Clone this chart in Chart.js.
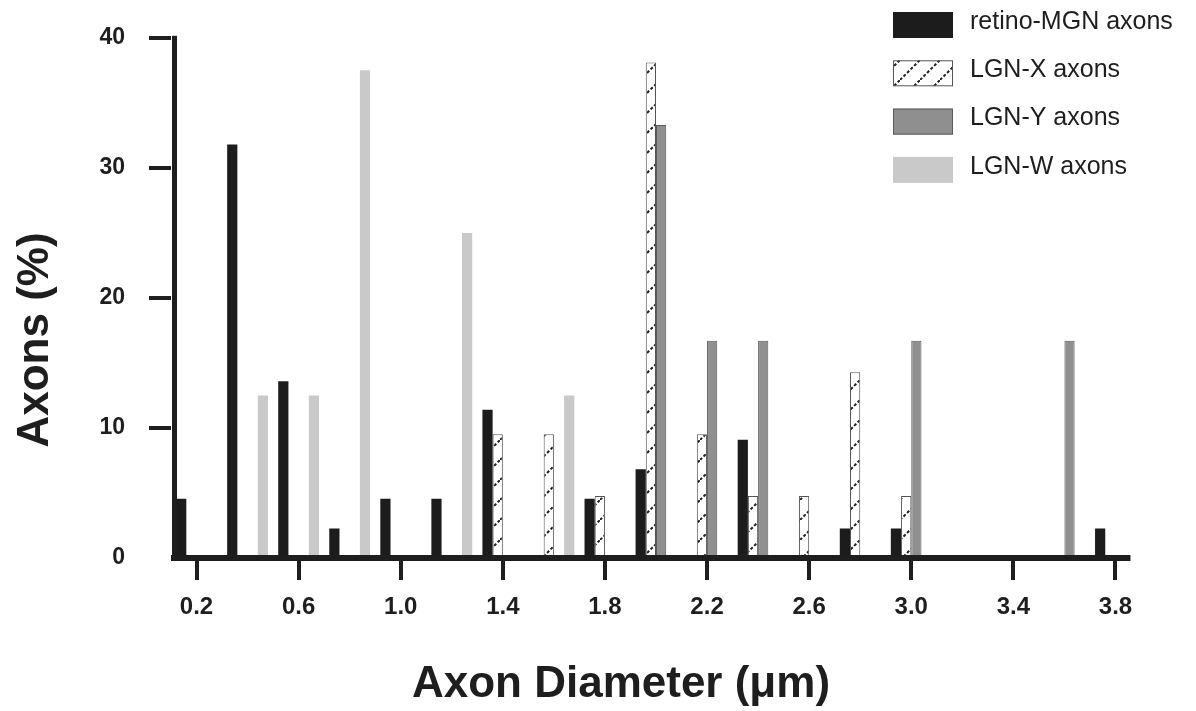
<!DOCTYPE html>
<html>
<head>
<meta charset="utf-8">
<script src="https://cdn.jsdelivr.net/npm/chart.js@4"></script>
<style>
  html, body { margin: 0; padding: 0; background: #ffffff; }
  #wrap { width: 1196px; height: 711px; }
</style>
</head>
<body>
<div id="wrap"><canvas id="c" width="1196" height="711"></canvas></div>
<script>
// ---- data ----
const categories = ['0.2','0.4','0.6','0.8','1.0','1.2','1.4','1.6','1.8','2.0',
                    '2.2','2.4','2.6','2.8','3.0','3.2','3.4','3.6','3.8'];
const xTickLabels = ['0.2','0.6','1.0','1.4','1.8','2.2','2.6','3.0','3.4','3.8'];
const yTickValues = [0, 10, 20, 30, 40];
const seriesNames = ['retino-MGN axons', 'LGN-X axons', 'LGN-Y axons', 'LGN-W axons'];
const retinoMGN = [4.55, 31.8, 13.6, 2.27, 4.55, 4.55, 11.4, 0, 4.55, 6.82, 0, 9.09, 0, 2.27, 2.27, 0, 0, 0, 2.27];
const lgnX      = [0, 0, 0, 0, 0, 0, 9.52, 9.52, 4.76, 38.1, 9.52, 4.76, 4.76, 14.29, 4.76, 0, 0, 0, 0];
const lgnY      = [0, 0, 0, 0, 0, 0, 0, 0, 0, 33.3, 16.7, 16.7, 0, 0, 16.7, 0, 0, 16.7, 0];
const lgnW      = [0, 12.5, 12.5, 37.5, 0, 25, 0, 12.5, 0, 0, 0, 0, 0, 0, 0, 0, 0, 0, 0];
const xTitle = 'Axon Diameter (\u03bcm)';
const yTitle = 'Axons (%)';

// ---- styles ----
const INK = '#1e1e1e';
const FONT = '"Liberation Sans", Arial, Helvetica, sans-serif';
Chart.defaults.font.family = FONT;
Chart.defaults.color = INK;

function hatchPattern() {
  const s = 20;
  const c = document.createElement('canvas');
  c.width = s; c.height = s;
  const g = c.getContext('2d');
  g.fillStyle = '#ffffff';
  g.fillRect(0, 0, s, s);
  g.strokeStyle = '#222222';
  g.lineWidth = 2;
  g.setLineDash([3, 2]);
  g.beginPath();
  g.moveTo(0, s); g.lineTo(s, 0);
  g.moveTo(-3, 3); g.lineTo(3, -3);
  g.moveTo(s - 3, s + 3); g.lineTo(s + 3, s - 3);
  g.stroke();
  return g.createPattern(c, 'repeat');
}
const hatch = hatchPattern();

const seriesStyles = [
  { backgroundColor: '#1c1c1c', borderColor: '#1c1c1c', borderWidth: 0 },
  { backgroundColor: hatch, borderColor: '#555555', borderWidth: 1 },
  { backgroundColor: '#8f8f8f', borderColor: '#5a5a5a', borderWidth: 1 },
  { backgroundColor: '#c9c9c9', borderColor: '#c9c9c9', borderWidth: 0 }
];
const seriesValues = [retinoMGN, lgnX, lgnY, lgnW];

const datasets = seriesNames.map((name, i) => Object.assign({
  label: name,
  data: seriesValues[i],
  categoryPercentage: 0.8,
  barPercentage: 1.0,
  borderSkipped: 'start'
}, seriesStyles[i]));

const decor = {
  id: 'decor',
  afterDatasetsDraw(chart) {
    const { ctx, chartArea, scales } = chart;
    const x = scales.x, y = scales.y;
    const y0 = y.getPixelForValue(0);
    const yTop = y.getPixelForValue(40);
    const lastX = x.getPixelForValue(categories.length - 1);
    ctx.save();
    ctx.fillStyle = INK;
    // x axis line
    ctx.fillRect(chartArea.left, y0 - 3, lastX + 15 - chartArea.left, 6);
    // y axis line
    ctx.fillRect(chartArea.left + 1, yTop - 2, 5, y0 - yTop + 5);
    ctx.restore();
  },
  afterDraw(chart) {
    const { ctx } = chart;
    ctx.save();
    // axis titles
    ctx.fillStyle = INK;
    ctx.font = 'bold 44px ' + FONT;
    ctx.textAlign = 'center';
    ctx.textBaseline = 'alphabetic';
    ctx.fillText(xTitle, 621, 697);

    ctx.translate(48, 340);
    ctx.rotate(-Math.PI / 2);
    ctx.font = 'bold 44px ' + FONT;
    ctx.fillText(yTitle, 0, 0);
    ctx.setTransform(1, 0, 0, 1, 0, 0);

    // legend
    const lx = 893, ly0 = 12, step = 48.3, bw = 60, bh = 26;
    chart.data.datasets.forEach((ds, i) => {
      const top = ly0 + i * step;
      ctx.fillStyle = ds.backgroundColor;
      ctx.fillRect(lx, top, bw, bh);
      if (ds.borderWidth) {
        ctx.strokeStyle = ds.borderColor;
        ctx.lineWidth = 1;
        ctx.strokeRect(lx + 0.5, top + 0.5, bw - 1, bh - 1);
      }
      ctx.fillStyle = INK;
      ctx.font = '25px ' + FONT;
      ctx.textAlign = 'left';
      ctx.textBaseline = 'middle';
      ctx.fillText(ds.label, 970, top + bh / 2 - 3);
    });
    ctx.restore();
  }
};

new Chart(document.getElementById('c'), {
  type: 'bar',
  data: { labels: categories, datasets: datasets },
  plugins: [decor],
  options: {
    responsive: false,
    animation: false,
    devicePixelRatio: 1,
    layout: { padding: { top: 33, right: 55, bottom: 0, left: 0 } },
    plugins: { legend: { display: false }, tooltip: { enabled: false }, title: { display: false } },
    scales: {
      x: {
        type: 'category',
        offset: true,
        border: { display: false },
        grid: {
          offset: false,
          drawOnChartArea: false,
          drawTicks: true,
          tickLength: 22,
          tickWidth: 4,
          lineWidth: (c) => (c.index % 2 === 0 ? 4 : 0),
          tickColor: (c) => (c.index % 2 === 0 ? INK : 'rgba(0,0,0,0)'),
          color: INK
        },
        ticks: {
          autoSkip: false,
          maxRotation: 0,
          minRotation: 0,
          padding: 13,
          color: INK,
          font: { size: 24, weight: 'bold' },
          callback: function (value) {
            const lab = this.getLabelForValue(value);
            return xTickLabels.includes(lab) ? lab : '';
          }
        },
        afterFit: (s) => { s.height = 153; }
      },
      y: {
        min: 0,
        max: 40,
        border: { display: false },
        grid: {
          drawOnChartArea: false,
          drawTicks: true,
          tickLength: 22,
          tickWidth: 4,
          lineWidth: (c) => (c.tick && c.tick.value === 0 ? 0 : 4),
          tickColor: (c) => (c.tick && c.tick.value === 0 ? 'rgba(0,0,0,0)' : INK),
          color: INK
        },
        afterBuildTicks: (s) => { s.ticks = yTickValues.map(v => ({ value: v })); },
        ticks: {
          padding: 24,
          color: INK,
          font: { size: 23, weight: 'bold' }
        },
        afterFit: (s) => { s.width = 171; }
      }
    }
  }
});
</script>
</body>
</html>
